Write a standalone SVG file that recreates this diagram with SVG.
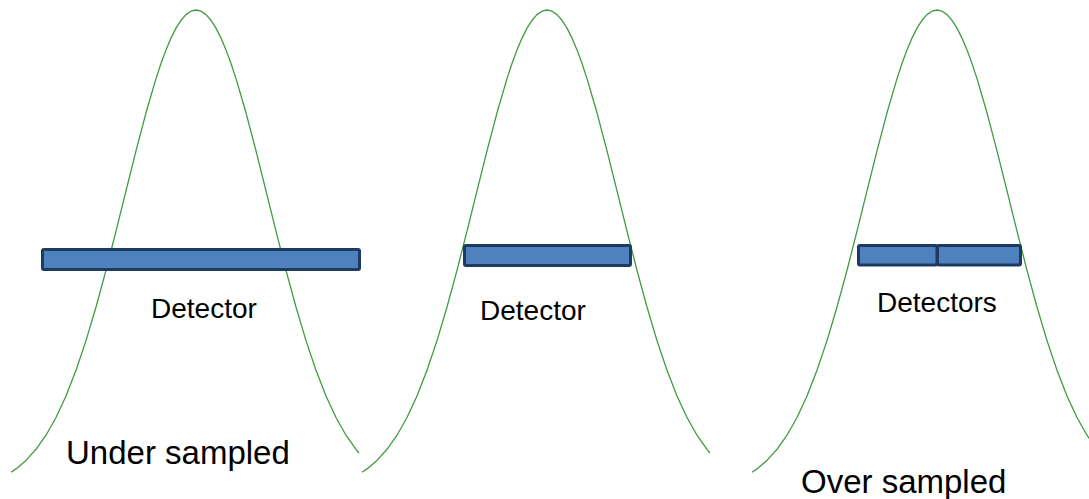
<svg xmlns="http://www.w3.org/2000/svg" xmlns:xlink="http://www.w3.org/1999/xlink" width="1089" height="499" viewBox="0 0 1089 499">
<style>
.curve{fill:none;stroke:#3f9b3f;stroke-width:1.3;stroke-linejoin:round}
.bar{fill:#4f81bd;stroke:#1c3a62;stroke-width:3}
.lbl{font-family:"Liberation Sans",Arial,sans-serif;fill:#000}
</style>
<defs>
<path id="gauss" class="curve" d="M-185,472.3 L-180,468.9 L-170,460.4 L-160,449.3 L-150,435.2 L-140,417.5 L-130,396 L-120,370.3 L-110,340.6 L-100,307 L-90,270.3 L-80,231.1 L-70,190.8 L-60,150.8 L-50,112.8 L-40,78.6 L-35,63.5 L-30,49.9 L-25,38.1 L-20,28.1 L-15,20.3 L-10,14.6 L-5,11.2 L0,10 L5,11.2 L10,14.6 L15,20.3 L20,28.1 L25,38.1 L30,49.9 L35,63.5 L40,78.6 L50,112.8 L60,150.8 L70,190.8 L80,231.1 L90,270.3 L100,307 L110,340.6 L120,370.3 L130,396 L140,417.5 L150,435.2 L160,449.3 L163,453"/>
</defs>
<g id="curves">
<use xlink:href="#gauss" href="#gauss" transform="translate(196,0)"/>
<use xlink:href="#gauss" href="#gauss" transform="translate(547,0)"/>
<use xlink:href="#gauss" href="#gauss" transform="translate(937,0)"/>
</g>
<g id="detector1">
<rect class="bar" x="42.5" y="249.5" width="317" height="20" rx="1.5"/>
<text class="lbl" x="151" y="318" font-size="28">Detector</text>
</g>
<g id="detector2">
<rect class="bar" x="464.5" y="245.5" width="166" height="20" rx="1.5"/>
<text class="lbl" x="480" y="320" font-size="28">Detector</text>
</g>
<g id="detectors3">
<rect class="bar" x="858.5" y="245.5" width="78.5" height="19.5" rx="1.5"/>
<rect class="bar" x="937.5" y="245.5" width="83" height="19.5" rx="1.5"/>
<text class="lbl" x="877" y="312" font-size="28">Detectors</text>
</g>
<text class="lbl" x="66" y="464" font-size="33">Under sampled</text>
<text class="lbl" x="801" y="493" font-size="33">Over sampled</text>
</svg>
